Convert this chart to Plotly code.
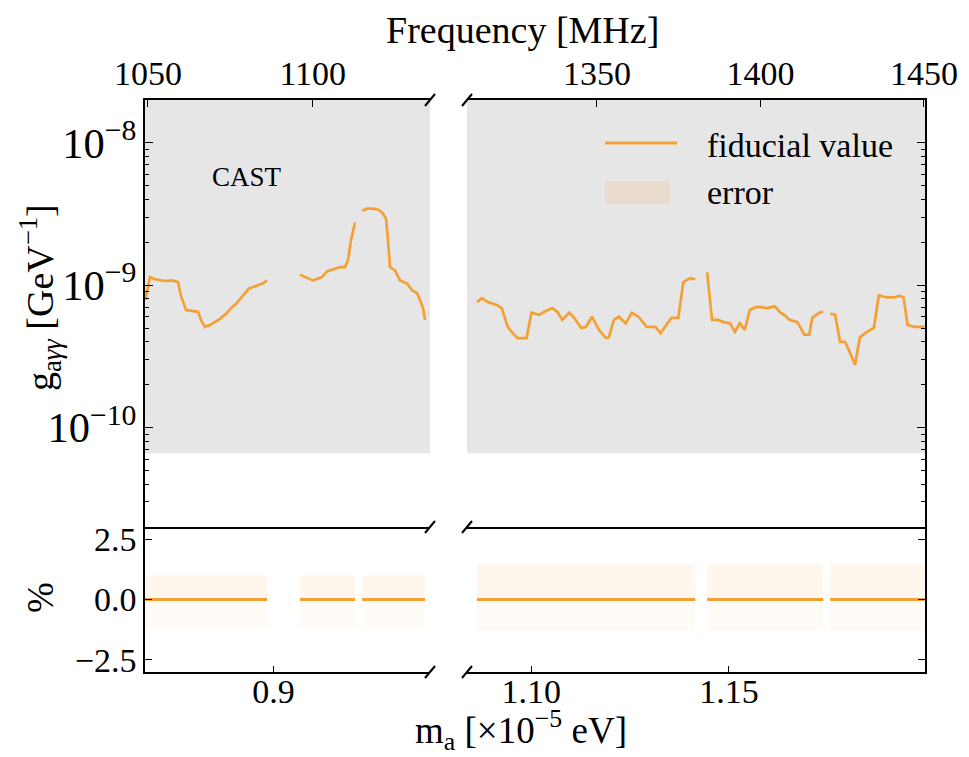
import plotly.graph_objects as go

W, H = 969, 757
FONT = "Liberation Serif"
ORANGE = "#F5A035"

# ---------------- data ----------------
CAST_LIMIT = 6.6e-11          # GeV^-1
H_EV_MHZ = 4.135667696e-9     # Planck constant in eV / MHz

# left block (m_a in 1e-5 eV, g in 1e-10 GeV^-1)
L1_m = [0.86780, 0.86901, 0.87026, 0.87277, 0.87453, 0.87604, 0.87679, 0.87804, 0.87955,
        0.88105, 0.88206, 0.88281, 0.88407, 0.88532, 0.88657, 0.88808, 0.88934, 0.89059,
        0.89184, 0.89285, 0.89385, 0.89486, 0.89611, 0.89737, 0.89837]
L1_g = [7.85, 11.4, 11.0, 10.7, 10.8, 10.5, 8.4, 6.7, 6.6, 6.5, 5.5, 5.1, 5.25, 5.5, 5.8,
        6.3, 6.9, 7.4, 8.1, 8.8, 9.5, 9.7, 10.0, 10.3, 10.8]
L2_m = [0.90665, 0.90790, 0.90991, 0.91117, 0.91217, 0.91343, 0.91493, 0.91669, 0.91794,
        0.91869, 0.91945, 0.92045]
L2_g = [11.9, 11.4, 10.8, 11.2, 11.4, 12.5, 12.9, 13.4, 13.4, 15.0, 20.7, 27.6]
L3_m = [0.92221, 0.92346, 0.92497, 0.92622, 0.92723, 0.92823, 0.92873, 0.92923, 0.93049,
        0.93174, 0.93275, 0.93350, 0.93475, 0.93601, 0.93676, 0.93751, 0.93802]
L3_g = [33.4, 34.5, 34.5, 34.0, 32.4, 29.4, 20.7, 13.4, 12.7, 10.8, 10.5, 10.3, 9.2, 8.8,
        7.85, 6.9, 5.7]

# right block
R1_m = [1.08627, 1.08753, 1.08903, 1.09129, 1.09255, 1.09405, 1.09531, 1.09656, 1.09882,
        1.10008, 1.10208, 1.10334, 1.10535, 1.10660, 1.10785, 1.10961, 1.11087, 1.11262,
        1.11388, 1.11538, 1.11714, 1.11890, 1.11965, 1.12090, 1.12216, 1.12391, 1.12542,
        1.12717, 1.12918, 1.13144, 1.13270, 1.13470, 1.13546, 1.13721, 1.13847, 1.14022,
        1.14148]
R1_g = [7.6, 8.1, 7.6, 7.25, 6.9, 5.1, 4.6, 4.25, 4.25, 6.4, 6.2, 6.5, 6.9, 6.5, 5.7, 6.4,
        5.9, 5.0, 5.1, 6.0, 4.85, 4.25, 4.3, 5.7, 6.0, 5.4, 6.4, 6.0, 5.1, 5.1, 4.6, 5.5,
        5.9, 5.9, 10.5, 11.2, 11.0]
R2_m = [1.14449, 1.14574, 1.14725, 1.14875, 1.15026, 1.15151, 1.15277, 1.15402, 1.15528,
        1.15678, 1.15829, 1.15979, 1.16155, 1.16306, 1.16431, 1.16532, 1.16733, 1.16908,
        1.17034, 1.17109, 1.17285, 1.17385]
R2_g = [12.3, 5.7, 5.7, 5.5, 5.4, 4.7, 5.4, 4.85, 6.7, 7.0, 7.0, 6.9, 7.1, 6.4, 6.1, 5.7,
        5.5, 4.5, 4.5, 5.9, 6.4, 6.5]
R3_m = [1.17561, 1.17687, 1.17812, 1.17938, 1.18063, 1.18189, 1.18314, 1.18490, 1.18666,
        1.18791, 1.18992, 1.19168, 1.19318, 1.19419, 1.19519, 1.19695, 1.19950]
R3_g = [6.3, 6.2, 4.0, 4.0, 3.35, 2.76, 4.3, 4.7, 5.0, 8.5, 8.2, 8.2, 8.4, 8.2, 5.25, 5.1, 5.1]

G_UNIT = 1e-10
# relative error band per segment (%)
err_up = [1.0, 1.0, 1.0, 1.45, 1.45, 1.45]
err_lo = [1.2, 1.2, 1.2, 1.3, 1.3, 1.3]

left_segments = [(L1_m, L1_g), (L2_m, L2_g), (L3_m, L3_g)]
right_segments = [(R1_m, R1_g), (R2_m, R2_g), (R3_m, R3_g)]

X_RANGE_L = [0.86775, 0.93927]
X_RANGE_R = [1.08376, 1.19960]
Y_LOG_RANGE = [-10.699, -7.699]
Y_TOP = 1e-7
PCT_RANGE = [-3.0, 3.0]

freq_ticks_L = [1050, 1100]
freq_ticks_R = [1350, 1400, 1450]
mass_ticks_L = [0.9]
mass_ticks_L_text = ["0.9"]
mass_ticks_R = [1.10, 1.15]
mass_ticks_R_text = ["1.10", "1.15"]
pct_ticks = [-2.5, 0.0, 2.5]
pct_ticks_text = ["\u22122.5", "0.0", "2.5"]


def f_to_m(f):
    # photon frequency from a -> gamma gamma : m = 2 h f, in units of 1e-5 eV
    return 2 * H_EV_MHZ * f / 1e-5


# ---------------- layout geometry (pixels -> paper) ----------------
def px(x):
    return x / W


def py(y):
    return 1 - y / H


XL_DOM = [px(145), px(430)]
XR_DOM = [px(467), px(925)]
YT_DOM = [py(527), py(100)]
YB_DOM = [py(672), py(527)]

fig = go.Figure()

# CAST shaded regions
for xa, rng in (("x", X_RANGE_L), ("x2", X_RANGE_R)):
    fig.add_trace(go.Scatter(
        x=[rng[0], rng[1], rng[1], rng[0], rng[0]],
        y=[CAST_LIMIT, CAST_LIMIT, Y_TOP, Y_TOP, CAST_LIMIT],
        fill="toself", fillcolor="#e6e6e6", line=dict(width=0), mode="lines",
        hoverinfo="skip", showlegend=False, xaxis=xa, yaxis="y" if xa == "x" else "y2"))

# error bands in bottom panels
all_segs = [("x3", "y3", s) for s in left_segments] + [("x4", "y4", s) for s in right_segments]
for i, (xa, ya, (mm, gg)) in enumerate(all_segs):
    xs = [mm[0], mm[-1], mm[-1], mm[0], mm[0]]
    fig.add_trace(go.Scatter(x=xs, y=[0, 0, err_up[i], err_up[i], 0], fill="toself",
                             fillcolor="rgba(255,150,40,0.08)", line=dict(width=0),
                             mode="lines", hoverinfo="skip", showlegend=False,
                             xaxis=xa, yaxis=ya))
    fig.add_trace(go.Scatter(x=xs, y=[0, 0, -err_lo[i], -err_lo[i], 0], fill="toself",
                             fillcolor="rgba(255,150,40,0.035)", line=dict(width=0),
                             mode="lines", hoverinfo="skip", showlegend=False,
                             xaxis=xa, yaxis=ya))
    fig.add_trace(go.Scatter(x=[mm[0], mm[-1]], y=[0, 0], mode="lines",
                             line=dict(color=ORANGE, width=3), showlegend=False,
                             xaxis=xa, yaxis=ya))

# fiducial lines in top panels
for xa, ya, segs in (("x", "y", left_segments), ("x2", "y2", right_segments)):
    for mm, gg in segs:
        fig.add_trace(go.Scatter(x=mm, y=[v * G_UNIT for v in gg], mode="lines",
                                 line=dict(color=ORANGE, width=2.7), showlegend=False,
                                 xaxis=xa, yaxis=ya))

# invisible traces for the frequency axes
fig.add_trace(go.Scatter(x=[X_RANGE_L[0]], y=[1e-9], mode="markers", opacity=0,
                         showlegend=False, hoverinfo="skip", xaxis="x5", yaxis="y"))
fig.add_trace(go.Scatter(x=[X_RANGE_R[0]], y=[1e-9], mode="markers", opacity=0,
                         showlegend=False, hoverinfo="skip", xaxis="x6", yaxis="y2"))

tickfont = dict(family=FONT, size=34, color="black")
common = dict(showgrid=False, zeroline=False, showline=True, linecolor="black",
              linewidth=1.5, tickfont=tickfont, tickcolor="black", automargin=False)
log_y = dict(type="log", range=Y_LOG_RANGE, dtick=1, exponentformat="power",
             ticks="inside", ticklen=8, tickwidth=1.3,
             minor=dict(ticks="inside", ticklen=4, tickwidth=1, tickcolor="black",
                        dtick="D1", showgrid=False))

fig.update_layout(
    width=W, height=H, margin=dict(l=0, r=0, t=0, b=0, autoexpand=False),
    paper_bgcolor="white", plot_bgcolor="rgba(0,0,0,0)",
    font=dict(family=FONT, color="black"),
    xaxis=dict(domain=XL_DOM, anchor="y", range=X_RANGE_L, showticklabels=False,
               ticks="", **common),
    xaxis2=dict(domain=XR_DOM, anchor="y2", range=X_RANGE_R, showticklabels=False,
                ticks="", **common),
    yaxis=dict(domain=YT_DOM, anchor="x", side="left", **log_y, **common),
    yaxis2=dict(domain=YT_DOM, anchor="x2", side="right", showticklabels=False,
                **log_y, **common),
    xaxis3=dict(domain=XL_DOM, anchor="y3", range=X_RANGE_L, tickvals=mass_ticks_L,
                ticktext=mass_ticks_L_text, ticks="inside", ticklen=6,
                ticklabelstandoff=-12, **common),
    xaxis4=dict(domain=XR_DOM, anchor="y4", range=X_RANGE_R, tickvals=mass_ticks_R,
                ticktext=mass_ticks_R_text, ticks="inside", ticklen=6,
                ticklabelstandoff=-12, **common),
    yaxis3=dict(domain=YB_DOM, anchor="x3", side="left", range=PCT_RANGE,
                tickvals=pct_ticks, ticktext=pct_ticks_text, ticks="inside",
                ticklen=7, **common),
    yaxis4=dict(domain=YB_DOM, anchor="x4", side="right", range=PCT_RANGE,
                tickvals=pct_ticks, showticklabels=False, ticks="inside",
                ticklen=7, **common),
    xaxis5=dict(overlaying="x", anchor="y", side="top", range=X_RANGE_L,
                tickvals=[f_to_m(f) for f in freq_ticks_L],
                ticktext=[str(f) for f in freq_ticks_L], ticks="inside", ticklen=7,
                **common),
    xaxis6=dict(overlaying="x2", anchor="y2", side="top", range=X_RANGE_R,
                tickvals=[f_to_m(f) for f in freq_ticks_R],
                ticktext=[str(f) for f in freq_ticks_R], ticks="inside", ticklen=7,
                **common),
)

# axis titles, labels, legend (annotations)
ann = [
    dict(x=px(522), y=py(30), text="Frequency [MHz]", font=dict(size=38)),
    dict(x=px(521), y=py(730), text="m<sub>a</sub> [\u00d710<sup>\u22125</sup> eV]",
         font=dict(size=37)),
    dict(x=px(40), y=py(298), text="g<sub>a<i>\u03b3\u03b3</i></sub> [GeV<sup>\u22121</sup>]",
         textangle=-90, font=dict(size=38)),
    dict(x=px(40), y=py(598), text="%", textangle=-90, font=dict(size=37)),
    dict(x=px(247), y=py(177), text="CAST", font=dict(size=27)),
    dict(x=px(705), y=py(145), text="fiducial value", xanchor="left", font=dict(size=34)),
    dict(x=px(705), y=py(193), text="error", xanchor="left", font=dict(size=34)),
]
for a in ann:
    a.setdefault("xanchor", "center")
    fig.add_annotation(xref="paper", yref="paper", yanchor="middle", showarrow=False,
                       **a)

# legend handles
fig.add_shape(type="line", xref="paper", yref="paper", x0=px(605), x1=px(677),
              y0=py(143), y1=py(143), line=dict(color=ORANGE, width=3))
fig.add_shape(type="rect", xref="paper", yref="paper", x0=px(605), x1=px(670),
              y0=py(181), y1=py(204), line=dict(width=0),
              fillcolor="rgba(255,150,40,0.12)")

# axis-break slashes
for xb in (430, 467):
    for yb in (100, 527, 672):
        fig.add_shape(type="line", xref="paper", yref="paper",
                      x0=px(xb - 5), y0=py(yb + 6), x1=px(xb + 5), y1=py(yb - 6),
                      line=dict(color="black", width=2))

fig.write_html("out.html")
